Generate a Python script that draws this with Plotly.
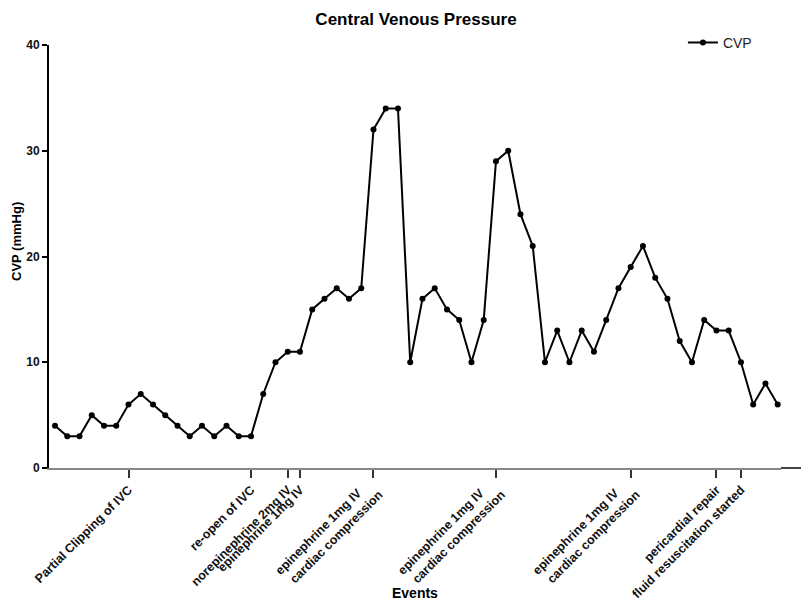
import plotly.graph_objects as go

# time-point index (sequential readings)
time_index = list(range(60))

# CVP values (mmHg)
cvp = [4, 3, 3, 5, 4, 4, 6, 7, 6, 5,
       4, 3, 4, 3, 4, 3, 3, 7, 10, 11,
       11, 15, 16, 17, 16, 17, 32, 34, 34, 10,
       16, 17, 15, 14, 10, 14, 29, 30, 24, 21,
       10, 13, 10, 13, 11, 14, 17, 19, 21, 18,
       16, 12, 10, 14, 13, 13, 10, 6, 8, 6]

# single-line event markers on the x axis
event_positions = [6, 16, 19, 20, 54, 56]
event_labels = [
    "Partial Clipping of IVC",
    "re-open of IVC",
    "norepinephrine 2mg IV",
    "epinephrine 1mg IV",
    "pericardial repair",
    "fluid resuscitation started",
]

# two-line (left-aligned) event markers
resus_positions = [26, 36, 47]
resus_line1 = "epinephrine 1mg IV"
resus_line2 = "cardiac compression"

y_ticks = [0, 10, 20, 30, 40]

FONT = "Liberation Sans, Arial, sans-serif"
NBSP = "\u00a0"

all_ticks = event_positions + resus_positions
all_text = event_labels + [""] * len(resus_positions)
resus_text = [resus_line1 + NBSP * 4 + "<br>" + resus_line2] * len(resus_positions)

fig = go.Figure()
fig.add_trace(go.Scatter(
    x=time_index, y=cvp, mode="lines+markers", name="CVP",
    line=dict(color="black", width=2),
    marker=dict(color="black", size=6, symbol="circle"),
    cliponaxis=False,
))
# invisible carrier for the second (label-only) x axis
fig.add_trace(go.Scatter(x=[time_index[0]], y=[None], xaxis="x2", showlegend=False,
                         hoverinfo="skip", mode="markers"))

tickfont = dict(size=12.5, family=FONT, color="#111", weight="bold")

fig.update_layout(
    width=801, height=601,
    margin=dict(l=49, r=20, t=45, b=133, autoexpand=False),
    paper_bgcolor="white", plot_bgcolor="white",
    font=dict(family=FONT, color="black"),
    title=dict(text="<b>Central Venous Pressure</b>", x=416 / 801, xanchor="center",
               y=1 - 19 / 601, yanchor="middle", font=dict(size=17, family=FONT)),
    showlegend=True,
    legend=dict(x=0.866, y=1.005, xanchor="left", yanchor="middle",
                font=dict(size=14, family=FONT, color="#222"), bgcolor="rgba(0,0,0,0)"),
    xaxis=dict(
        range=[-0.49, 59.27], showgrid=False, zeroline=False, automargin=False,
        showline=True, linecolor="#888", linewidth=1.5,
        tickmode="array", tickvals=all_ticks, ticktext=all_text,
        ticks="outside", ticklen=8, tickwidth=2, tickcolor="#333",
        tickangle=-45, tickfont=tickfont,
    ),
    xaxis2=dict(
        overlaying="x", matches="x", anchor="y", side="bottom",
        showgrid=False, zeroline=False, automargin=False, showline=False,
        tickmode="array", tickvals=resus_positions, ticktext=resus_text,
        ticks="outside", ticklen=8, tickwidth=0, tickcolor="rgba(0,0,0,0)",
        tickangle=-45, tickfont=tickfont, ticklabelshift=-6, ticklabelstandoff=-6,
    ),
    yaxis=dict(
        range=[0, 40], showgrid=False, zeroline=False, automargin=False,
        showline=True, linecolor="black", linewidth=2,
        tickmode="array", tickvals=y_ticks,
        ticks="outside", ticklen=5, tickwidth=2, tickcolor="black",
        tickfont=dict(size=12, family=FONT, color="#111", weight="bold"),
    ),
    annotations=[
        dict(text="<b>CVP (mmHg)</b>", textangle=-90, showarrow=False,
             xref="paper", yref="paper", x=(16 - 49) / 732, y=(468 - 242) / 423,
             xanchor="center", yanchor="middle", font=dict(size=13, family=FONT)),
        dict(text="<b>Events</b>", showarrow=False,
             xref="paper", yref="paper", x=(415 - 49) / 732, y=(468 - 593) / 423,
             xanchor="center", yanchor="middle", font=dict(size=14, family=FONT)),
    ],
)

# short darker continuation of the x axis beyond the last reading
fig.add_shape(type="line", xref="paper", yref="paper", x0=1, x1=1.03, y0=0, y1=0,
              line=dict(color="#444", width=2))

fig.write_html("out.html", config={"displayModeBar": False},
               post_script="document.body.style.margin='0px';document.body.style.overflow='hidden';")
